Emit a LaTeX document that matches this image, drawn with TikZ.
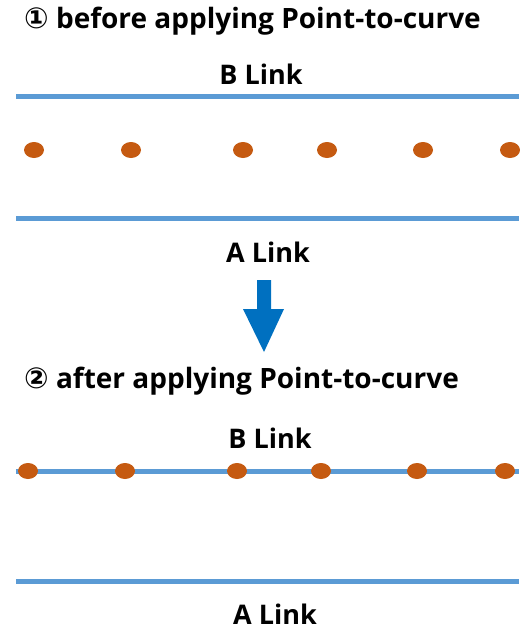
\documentclass[tikz,border=0pt]{standalone}
\usepackage{fontspec}
\setmainfont{Open Sans}
\newfontfamily\circfont{DejaVu Sans}
\usetikzlibrary{shapes.geometric}
\definecolor{linkblue}{HTML}{5B9BD5}
\definecolor{dotorange}{HTML}{C55A11}
\definecolor{arrowblue}{HTML}{0070C0}
\begin{document}
\begin{tikzpicture}[x=1pt,y=-1pt,
  link/.style={draw=linkblue,line width=5pt},
  pt/.style={ellipse,fill=dotorange,draw=none,minimum width=20pt,minimum height=16pt,inner sep=0pt},
  title/.style={anchor=west,font=\fontsize{28}{33}\selectfont\bfseries,inner sep=0pt},
  lab/.style={font=\fontsize{27}{32}\selectfont\bfseries,inner sep=0pt}]
\useasboundingbox (0,0) rectangle (520,630);
% panel 1
\node[title] (t1) at (24,21) {{\circfont\fontsize{29}{33}\selectfont ①} before applying Point-to-curve};
\node[lab] (b1) at (261,74) {B Link};
\coordinate (b1l) at (16,96);
\coordinate (b1r) at (519,96);
\draw[link] (b1l) -- (b1r);
\foreach \x/\n in {34/1,131/2,243/3,327/4,423/5,510/6}
  \node[pt] (p\n) at (\x,150) {};
\coordinate (a1l) at (16,218);
\coordinate (a1r) at (519,218);
\draw[link] (a1l) -- (a1r);
\node[lab] (a1) at (268,252) {A Link};
% arrow
\fill[arrowblue] (257,280) -- (271,280) -- (271,309) -- (284,309) -- (264,352) -- (243,309) -- (257,309) -- cycle;
% panel 2
\node[title] (t2) at (24,381) {{\circfont\fontsize{29}{33}\selectfont ②} after applying Point-to-curve};
\node[lab] (b2) at (270,438) {B Link};
\coordinate (b2l) at (16,471);
\coordinate (b2r) at (519,471);
\draw[link] (b2l) -- (b2r);
\foreach \x/\n in {28/1,125/2,237/3,321/4,417/5,505/6}
  \node[pt] (q\n) at (\x,471) {};
\coordinate (a2l) at (16,581);
\coordinate (a2r) at (519,581);
\draw[link] (a2l) -- (a2r);
\node[lab] (a2) at (275,614) {A Link};
\end{tikzpicture}
\end{document}
